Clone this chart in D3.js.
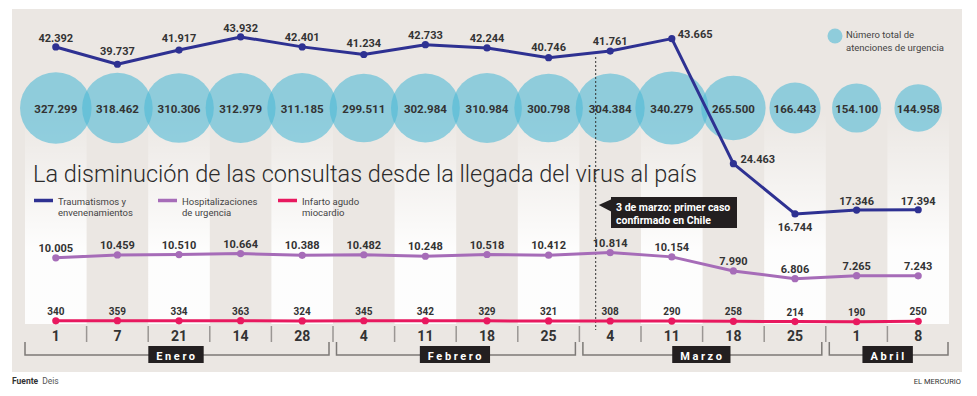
<!DOCTYPE html>
<html>
<head>
<meta charset="utf-8">
<script src="https://cdn.jsdelivr.net/npm/d3@7/dist/d3.min.js"></script>
<style>
  html, body { margin: 0; padding: 0; background: #fff; }
  svg { display: block; }
  text { font-family: Roboto, "Open Sans", sans-serif; }
</style>
</head>
<body>
<svg id="chart" width="977" height="396"></svg>
<script>
// ---------- DATA ----------
const days = ["1","7","21","14","28","4","11","18","25","4","11","18","25","1","8"];
const monthNames = ["Enero","Febrero","Marzo","Abril"];
const monthSpans = [5, 4, 4, 2];
const totalAtenciones = [327299,318462,310306,312979,311185,299511,302984,310984,300798,304384,340279,265500,166443,154100,144958];
const traumatismos = [42392,39737,41917,43932,42401,41234,42733,42244,40746,41761,43665,24463,16744,17346,17394];
const hospitalizaciones = [10005,10459,10510,10664,10388,10482,10248,10518,10412,10814,10154,7990,6806,7265,7243];
const infarto = [340,359,334,363,324,345,342,329,321,308,290,258,214,190,250];
const seriesNames = ["Traumatismos y|envenenamientos","Hospitalizaciones|de urgencia","Infarto agudo|miocardio"];
const titleText = "La disminución de las consultas desde la llegada del virus al país";
const bubbleLegend = ["Número total de","atenciones de urgencia"];
const annotationText = ["3 de marzo: primer caso","confirmado en Chile"];
const annotationIndex = 9; // week of 4 March; the event is 3 March

// ---------- SETUP ----------
const svg = d3.select("#chart");
const loc = d3.formatLocale({decimal: ",", thousands: ".", grouping: [3], currency: ["$",""]});
const fmt = loc.format(",d");

const panelColor = "#ebe7e3";
const cBlue = "#2e3192", cPurple = "#a66cb8", cPink = "#e8195f", cCyan = "#4bb9d6";
const ink = "#333";

const idx = d3.range(days.length);
const x = d3.scaleBand().domain(idx).range([25, 949]).paddingInner(0).paddingOuter(0);
const cx = i => x(i) + x.bandwidth() / 2;
const y = d3.scaleLinear().domain([0, 49600]).range([323, 0]);
const r = d3.scaleSqrt().domain([0, d3.max(totalAtenciones)]).range([0, 36.5]);
const bubbleY = 108;

// panel
svg.append("rect").attr("x", 12).attr("y", 9).attr("width", 950).attr("height", 363).attr("fill", panelColor);

// gradient for light columns
const defs = svg.append("defs");
const grad = defs.append("linearGradient").attr("id", "colGrad")
  .attr("gradientUnits", "userSpaceOnUse").attr("x1", 0).attr("x2", 0).attr("y1", 112).attr("y2", 250);
grad.append("stop").attr("offset", 0).attr("stop-color", "#ffffff").attr("stop-opacity", 0);
grad.append("stop").attr("offset", 1).attr("stop-color", "#ffffff").attr("stop-opacity", 0.92);

svg.append("g").selectAll("rect").data(idx.filter(i => i % 2 === 0)).join("rect")
  .attr("x", i => x(i)).attr("width", x.bandwidth())
  .attr("y", 112).attr("height", 324 - 112)
  .attr("fill", "url(#colGrad)");

// bubbles
svg.append("g").selectAll("circle").data(totalAtenciones).join("circle")
  .attr("cx", (d, i) => cx(i)).attr("cy", bubbleY).attr("r", d => r(d))
  .attr("fill", cCyan).attr("fill-opacity", 0.58);

svg.append("g").selectAll("text").data(totalAtenciones).join("text")
  .attr("x", (d, i) => cx(i)).attr("y", bubbleY + 4.5)
  .attr("text-anchor", "middle").attr("font-size", 11.5).attr("font-weight", 700).attr("fill", ink)
  .text(d => fmt(d));

// dashed marker line (3 March)
const markX = cx(annotationIndex) - 14.5;
svg.append("line").attr("x1", markX).attr("x2", markX).attr("y1", 57).attr("y2", 330)
  .attr("stroke", "#333").attr("stroke-width", 1).attr("stroke-dasharray", "2,2");

// title
svg.append("text").attr("x", 33).attr("y", 182)
  .attr("font-size", 24).attr("font-weight", 300).attr("fill", "#2b2b2b")
  .attr("textLength", 664).attr("lengthAdjust", "spacingAndGlyphs")
  .text(titleText);

// legend for lines
const legendX = [34, 158, 278];
const legendColors = [cBlue, cPurple, cPink];
seriesNames.forEach((n, k) => {
  const g = svg.append("g");
  g.append("line").attr("x1", legendX[k]).attr("x2", legendX[k] + 19).attr("y1", 200.5).attr("y2", 200.5)
    .attr("stroke", legendColors[k]).attr("stroke-width", 3.5);
  n.split("|").forEach((t, j) => {
    g.append("text").attr("x", legendX[k] + 24).attr("y", 204.5 + j * 11)
      .attr("font-size", 9.5).attr("fill", "#444").text(t);
  });
});

// bubble legend
svg.append("circle").attr("cx", 835).attr("cy", 36).attr("r", 7.5).attr("fill", cCyan).attr("fill-opacity", 0.58);
bubbleLegend.forEach((t, j) => {
  svg.append("text").attr("x", 846).attr("y", 38 + j * 12.5).attr("font-size", 9.5).attr("fill", "#444").text(t);
});

// annotation box
const boxX = 611, boxY = 197;
svg.append("path")
  .attr("d", `M${markX + 3},${boxY + 8} L${boxX + 1},${boxY + 2} L${boxX + 1},${boxY + 15} Z`)
  .attr("fill", "#231f20");
svg.append("rect").attr("x", boxX).attr("y", boxY).attr("width", 126).attr("height", 31).attr("fill", "#231f20");
annotationText.forEach((t, j) => {
  svg.append("text").attr("x", boxX + 5).attr("y", boxY + 14 + j * 13)
    .attr("font-size", 10.5).attr("font-weight", 700).attr("fill", "#fff").text(t);
});

// lines
const line = d3.line().x((d, i) => cx(i)).y(d => y(d));
function drawSeries(data, color, lblOffsets, fontSize, valueFmt) {
  const g = svg.append("g");
  g.append("path").datum(data).attr("d", line).attr("fill", "none")
    .attr("stroke", color).attr("stroke-width", 3).attr("stroke-linejoin", "round");
  g.selectAll("circle").data(data).join("circle")
    .attr("cx", (d, i) => cx(i)).attr("cy", d => y(d)).attr("r", 3.6).attr("fill", color);
  g.selectAll("text").data(data).join("text")
    .attr("x", (d, i) => cx(i) + (lblOffsets[i] ? lblOffsets[i][0] : 0))
    .attr("y", (d, i) => y(d) + (lblOffsets[i] ? lblOffsets[i][1] : -6))
    .attr("text-anchor", (d, i) => (lblOffsets[i] && lblOffsets[i][2]) || "middle")
    .attr("font-size", fontSize).attr("font-weight", 700).attr("fill", ink)
    .text(valueFmt);
}

drawSeries(traumatismos, cBlue,
  {0: [0, -5], 1: [0, -9], 2: [0, -8], 3: [0, -5], 4: [0, -6], 5: [0, -7], 6: [0, -6], 7: [0, -6], 8: [0, -7], 9: [0, -6],
   10: [6, -1, "start"], 11: [7, -1, "start"], 12: [0, 17], 13: [0, -5], 14: [0, -5]},
  11, d => fmt(d));
drawSeries(hospitalizaciones, cPurple, {}, 11, d => fmt(d));
drawSeries(infarto.map(v => v), cPink, {}, 10, d => fmt(d));

// day tick labels and separators
svg.append("g").selectAll("text").data(days).join("text")
  .attr("x", (d, i) => cx(i)).attr("y", 341)
  .attr("text-anchor", "middle").attr("font-size", 14).attr("font-weight", 700).attr("fill", ink)
  .text(d => d);
svg.append("g").selectAll("line").data(idx.slice(1)).join("line")
  .attr("x1", i => x(i)).attr("x2", i => x(i)).attr("y1", 326).attr("y2", 342)
  .attr("stroke", "#9a9693").attr("stroke-width", 1.5);

// month brackets
let start = 0;
monthNames.forEach((m, k) => {
  const end = start + monthSpans[k] - 1;
  const x0 = x(start) + (start === 0 ? 0 : 3.5);
  const x1 = x(end) + x.bandwidth() - (end === days.length - 1 ? 1 : 4);
  const g = svg.append("g");
  g.append("path").attr("d", `M${x0},342 V355 H${x1} V342`)
    .attr("fill", "none").attr("stroke", "#7d7a77").attr("stroke-width", 1.5);
  const mid = (x0 + x1) / 2;
  const t = g.append("text").attr("x", mid).attr("y", 359.5)
    .attr("text-anchor", "middle").attr("font-size", 11).attr("font-weight", 700)
    .attr("fill", "#fff").attr("letter-spacing", 2.6).text(m);
  const w = t.node().getComputedTextLength();
  g.insert("rect", "text").attr("x", mid - w / 2 - 8).attr("y", 346).attr("width", w + 14).attr("height", 17)
    .attr("fill", "#231f20");
  start = end + 1;
});

// footer
const foot = svg.append("text").attr("x", 12).attr("y", 384).attr("font-size", 8.5).attr("fill", ink);
foot.append("tspan").attr("font-weight", 700).text("Fuente");
foot.append("tspan").attr("dx", 4).attr("fill", "#555").text("Deis");
svg.append("text").attr("x", 961).attr("y", 384).attr("text-anchor", "end")
  .attr("font-size", 7.5).attr("fill", ink).text("EL MERCURIO");
</script>
</body>
</html>
